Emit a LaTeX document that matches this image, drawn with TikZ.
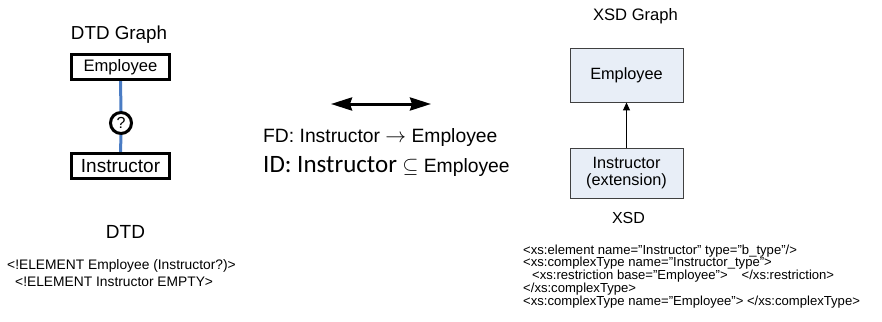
\documentclass[tikz,border=0pt]{standalone}
\usepackage{fontspec}
\setmainfont{Liberation Sans}
\newfontfamily\calfont{Carlito}
\usetikzlibrary{arrows.meta}
\definecolor{xsdfill}{HTML}{E8EEF7}
\definecolor{xsdline}{HTML}{404040}
\definecolor{dtdblue}{HTML}{4A7CC4}
\newcommand{\fsz}[1]{\fontsize{#1}{#1}\selectfont}
\tikzset{
  dtdbox/.style={draw=black, line width=3.2pt, minimum width=98pt, minimum height=25pt, inner sep=0pt},
  xsdbox/.style={draw=xsdline, fill=xsdfill, line width=0.9pt, inner sep=0pt, font=\fsz{16.3}, align=center},
  title/.style={anchor=base, inner sep=0pt},
  code/.style={anchor=base west, inner sep=0pt},
}
\begin{document}
\begin{tikzpicture}[x=1pt,y=-1pt]
\useasboundingbox (0,0) rectangle (882,321);

% DTD graph
\node[title, font=\fsz{18.8}] (dtdtitle) at (119,39.5) {DTD Graph};
\node[dtdbox, font=\fsz{16.6}] (demp) at (120.5,67) {Employee};
\node[dtdbox, font=\fsz{19}] (dins) at (120.5,166) {Instructor};
\node[circle, draw=black, fill=white, line width=3pt, minimum size=21pt, inner sep=0pt, font=\fsz{16}] (opt) at (121,123) {?};
\draw[dtdblue, line width=3pt] (demp.south) -- (opt.north);
\draw[dtdblue, line width=3pt] (opt.south) -- (dins.north);

\node[title, font=\fsz{19}] (dtdlabel) at (125.5,238) {DTD};
\node[code, font=\fsz{13.8}] (dtd1) at (7,269.5) {<!ELEMENT Employee (Instructor?)>};
\node[code, font=\fsz{13.8}] (dtd2) at (15,286) {<!ELEMENT Instructor EMPTY>};

% mapping between the two graphs
\coordinate (mapl) at (331,104);
\coordinate (mapr) at (431,104);
\draw[line width=3pt, {Stealth[length=21pt,width=13pt,inset=2pt]}-{Stealth[length=21pt,width=13pt,inset=2pt]}] (mapl) -- (mapr);
\node[code, font=\fsz{19.3}] (fd) at (263,142.5) {FD: Instructor $\rightarrow$ Employee};
\node[code, font=\fsz{19.3}] (id) at (263,172) {{\calfont\fsz{25}ID: Instructor} {\fsz{21}$\subseteq$} Employee};

% XSD graph
\node[title, font=\fsz{16.6}] (xsdtitle) at (635.5,20.5) {XSD Graph};
\node[xsdbox, minimum width=113pt, minimum height=54pt] (xemp) at (626.5,75) {Employee};
\node[xsdbox, minimum width=113pt, minimum height=50pt, text width=110pt] (xins) at (626.5,173) {Instructor\\[1.5pt](extension)};
\draw[line width=1pt, -{Triangle[length=8pt,width=7pt]}] (xins.north) -- (xemp.south);

\node[title, font=\fsz{16}] (xsdlabel) at (628.5,223) {XSD};
\node[code, font=\fsz{13.1}] (x1) at (523,254) {<xs:element name="Instructor" type="b\_type"/>};
\node[code, font=\fsz{13.1}] (x2) at (523,266.8) {<xs:complexType name="Instructor\_type">};
\node[code, font=\fsz{13.1}] (x3) at (532,279.5) {<xs:restriction base="Employee">\hspace{14pt}</xs:restriction>};
\node[code, font=\fsz{13.1}] (x4) at (523,292.2) {</xs:complexType>};
\node[code, font=\fsz{13.1}] (x5) at (523,305) {<xs:complexType name="Employee"> </xs:complexType>};
\end{tikzpicture}
\end{document}
